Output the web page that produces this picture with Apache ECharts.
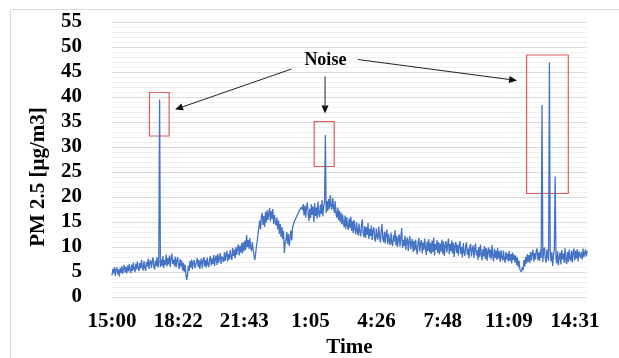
<!DOCTYPE html>
<html>
<head>
<meta charset="utf-8">
<script src="https://cdn.jsdelivr.net/npm/echarts@6/dist/echarts.min.js"></script>
<style>html,body{margin:0;padding:0;background:#fff}#c{width:619px;height:358px}</style>
</head>
<body>
<div id="c"></div>
<script>
// Time-axis tick labels (every 201.5 minutes from 15:00)
const timeLabels = ['15:00','18:22','21:43','1:05','4:26','7:48','11:09','14:31'];
const labelStepMin = 201.5;
const sampleStepMin = 2.5;          // one reading every 2.5 minutes
// PM 2.5 readings [µg/m3]
const pm25 = [
 4.3, 5.6, 4.7, 6.0, 4.2, 5.4, 5.9, 4.5, 5.5, 4.1,
 5.8, 4.8, 6.2, 4.6, 5.6, 6.4, 4.9, 6.0, 4.7, 6.3,
 5.1, 6.6, 5.4, 4.8, 6.5, 5.2, 6.9, 5.6, 5.0, 6.7,
 5.5, 7.1, 5.8, 5.2, 6.8, 5.7, 7.4, 6.0, 5.3, 7.2,
 5.9, 5.2, 7.0, 6.1, 7.7, 5.6, 6.9, 7.4, 5.8, 7.1,
 7.9, 6.0, 5.5, 7.3, 6.2, 8.0, 5.9, 6.9, 39.5, 6.0,
 7.5, 6.2, 8.2, 5.8, 7.4, 6.4, 8.5, 6.1, 7.8, 6.5,
 8.3, 6.0, 7.8, 8.7, 6.6, 7.5, 6.2, 8.1, 5.9, 7.3,
 8.0, 6.3, 5.6, 7.6, 6.1, 7.3, 5.3, 6.8, 5.0, 6.5,
 4.7, 3.4, 4.3, 6.3, 5.2, 7.2, 5.9, 7.5, 5.5, 6.9,
 7.4, 5.8, 5.4, 7.1, 7.8, 6.0, 7.4, 5.6, 7.0, 7.7,
 5.7, 7.2, 8.0, 6.1, 7.4, 5.9, 7.9, 6.5, 6.0, 7.6,
 8.2, 6.3, 7.7, 6.6, 8.4, 6.2, 7.8, 8.3, 6.4, 8.6,
 6.8, 7.9, 8.8, 6.6, 8.1, 8.5, 7.0, 9.0, 7.2, 8.4,
 9.2, 7.1, 8.6, 7.5, 9.4, 8.0, 7.4, 9.8, 8.2, 9.5,
 7.7, 10.0, 8.4, 9.7, 10.5, 8.3, 10.2, 8.9, 10.8, 8.7,
 11.0, 9.2, 11.3, 9.4, 12.4, 10.0, 11.4, 9.6, 11.8, 9.9,
 9.2, 11.0, 9.5, 8.4, 7.4, 8.6, 10.2, 11.2, 12.7, 14.0,
 15.3, 13.5, 16.0, 16.8, 14.4, 16.2, 14.0, 17.0, 14.9, 17.4,
 15.4, 16.7, 17.8, 15.1, 17.2, 15.6, 17.6, 14.6, 16.4, 15.0,
 14.3, 15.9, 13.5, 15.3, 12.6, 14.6, 12.0, 14.0, 11.6, 13.2,
 8.8, 10.8, 11.4, 13.0, 10.6, 12.6, 10.2, 11.8, 13.3, 11.3,
 13.8, 14.5, 14.3, 15.4, 15.0, 16.1, 15.7, 16.8, 16.6, 17.5,
 17.1, 18.0, 17.4, 18.6, 16.3, 18.3, 15.9, 18.0, 18.9, 16.6,
 15.2, 17.7, 15.8, 18.6, 16.4, 18.1, 15.0, 18.8, 16.2, 17.9,
 15.7, 19.1, 16.8, 16.0, 18.5, 16.6, 19.4, 16.1, 18.2, 18.7,
 32.4, 16.8, 19.2, 17.2, 19.6, 17.6, 20.4, 18.3, 17.5, 19.8,
 18.0, 16.8, 19.2, 16.6, 15.9, 17.9, 15.4, 17.3, 15.0, 16.9,
 14.5, 16.5, 14.8, 14.0, 16.3, 13.6, 16.0, 14.3, 13.4, 15.7,
 13.8, 16.1, 13.2, 15.2, 12.8, 15.4, 13.7, 12.5, 15.0, 13.1,
 12.3, 14.7, 13.0, 12.1, 14.4, 15.5, 12.7, 12.0, 14.2, 11.8,
 14.0, 12.4, 14.8, 11.6, 13.6, 12.2, 14.3, 11.4, 13.3, 13.9,
 11.7, 11.1, 13.7, 12.0, 11.5, 14.1, 12.2, 10.9, 13.2, 14.6,
 11.6, 11.0, 13.1, 10.7, 12.7, 13.5, 10.5, 12.6, 11.2, 10.4,
 12.9, 10.8, 10.2, 12.4, 11.1, 13.4, 10.3, 12.2, 10.0, 11.7,
 12.5, 10.1, 12.1, 13.8, 9.8, 11.4, 10.2, 12.3, 9.4, 11.3,
 11.9, 9.2, 11.1, 12.2, 9.5, 10.8, 11.6, 9.0, 11.2, 9.3,
 11.5, 9.6, 8.5, 11.0, 11.8, 9.1, 10.7, 11.4, 8.7, 10.9,
 9.4, 11.7, 9.7, 8.4, 11.1, 9.2, 11.6, 8.9, 10.8, 8.6,
 11.3, 9.0, 11.9, 8.3, 10.6, 9.4, 11.4, 8.8, 11.0, 8.5,
 10.7, 9.1, 11.5, 8.6, 11.1, 8.2, 10.3, 11.2, 8.9, 10.4,
 11.7, 8.5, 10.6, 9.2, 11.3, 8.7, 10.9, 8.0, 10.2, 11.0,
 8.8, 10.5, 8.3, 10.3, 11.2, 8.6, 10.0, 7.9, 10.8, 9.0,
 8.2, 10.2, 10.9, 8.4, 9.7, 7.7, 10.1, 10.6, 8.1, 9.5,
 10.3, 7.8, 9.8, 10.7, 8.3, 9.4, 7.4, 10.0, 8.0, 10.5,
 8.5, 7.3, 9.6, 8.1, 10.2, 7.6, 9.8, 7.2, 9.2, 9.9,
 7.9, 9.5, 7.5, 10.4, 8.2, 7.1, 9.7, 7.8, 9.3, 7.4,
 9.8, 7.7, 9.1, 7.0, 9.4, 8.0, 7.3, 9.3, 7.6, 6.9,
 9.0, 7.5, 8.7, 7.1, 9.2, 7.2, 8.6, 6.7, 8.9, 7.4,
 8.5, 6.9, 8.3, 6.4, 7.9, 6.0, 7.3, 5.5, 5.2, 5.0,
 6.0, 5.4, 7.4, 6.1, 8.0, 6.7, 8.6, 7.0, 8.4, 6.8,
 9.0, 7.3, 8.7, 9.4, 7.1, 8.8, 7.5, 9.2, 9.7, 7.4,
 8.9, 7.2, 9.5, 7.8, 38.4, 7.0, 9.1, 9.9, 7.6, 6.9,
 9.6, 8.0, 7.3, 46.9, 9.3, 7.1, 9.0, 6.2, 8.3, 9.5,
 24.1, 7.6, 6.7, 9.2, 6.3, 8.0, 8.9, 6.5, 9.4, 7.5,
 8.7, 6.8, 9.8, 7.4, 6.6, 9.0, 7.0, 9.5, 7.8, 7.2,
 9.3, 6.9, 8.9, 9.7, 7.3, 9.2, 7.7, 9.6, 7.1, 9.1,
 9.4, 7.8, 9.0, 7.5, 9.7, 8.0, 7.6, 9.5, 8.1, 9.2
];
// Noise boxes in data units: [minStart, minEnd, valLow, valHigh]
const noiseBoxes = [
  [114, 174, 32.2, 40.9],
  [616, 677, 26.1, 35.1],
  [1263, 1390, 20.7, 48.4]
];
// "Noise" label position and arrows, in data units: [minute, value]
const noiseLabelAt = [650, 47.4];
const noiseArrows = [
  [[547, 45.6], [192, 37.5]],
  [[649, 44.1], [649, 36.7]],
  [[749, 47.5], [1234, 43.3]]
];

const font = "'Liberation Serif','Times New Roman',serif";
const chart = echarts.init(document.getElementById('c'), null, {renderer: 'canvas'});
chart.setOption({
  animation: false,
  backgroundColor: '#fff',
  grid: {left: 112, right: 32, top: 22, bottom: 61, containLabel: false, outerBoundsMode: 'none'},
  xAxis: {
    type: 'value', min: 0, max: 1447, interval: labelStepMin,
    name: 'Time', nameLocation: 'middle', nameGap: 40,
    nameTextStyle: {fontFamily: font, fontWeight: 'bold', fontSize: 21, color: '#000'},
    axisLine: {show: false}, axisTick: {show: false}, splitLine: {show: false},
    axisLabel: {
      fontFamily: font, fontWeight: 'bold', fontSize: 21, color: '#000', margin: 14,
      showMaxLabel: false,
      formatter: v => { const k = v / labelStepMin; const r = Math.round(k); return Math.abs(k - r) < 1e-6 ? (timeLabels[r] || '') : ''; }
    }
  },
  yAxis: {
    type: 'value', min: 0, max: 55, interval: 5,
    axisLine: {show: false}, axisTick: {show: false},
    axisLabel: {fontFamily: font, fontWeight: 'bold', fontSize: 21, color: '#000', margin: 30},
    splitLine: {show: true, lineStyle: {color: '#d9d9d9', width: 1}},
    minorTick: {show: false, splitNumber: 5},
    minorSplitLine: {show: true, lineStyle: {color: '#efefef', width: 1}}
  },
  series: [{
    type: 'line', showSymbol: false, symbol: 'none',
    data: pm25.map((v, i) => [i * sampleStepMin, v]),
    lineStyle: {color: '#4472c4', width: 1.3},
    itemStyle: {color: '#4472c4'},
    markArea: {
      silent: true,
      itemStyle: {color: 'rgba(0,0,0,0)', borderColor: '#e05a5a', borderWidth: 1.2},
      data: noiseBoxes.map(b => [{coord: [b[0], b[3]]}, {coord: [b[1], b[2]]}])
    }
  }]
});

// Annotation: frame, y-axis title, "Noise" label and arrows (positioned via the chart's scales)
const px = p => chart.convertToPixel({gridIndex: 0}, p);
const g = [
  {type: 'rect', silent: true, shape: {x: 10.5, y: 9.5, width: 700, height: 400},
   style: {fill: 'none', stroke: '#d9d9d9', lineWidth: 1}, z: -1},
  {type: 'text', x: 39, y: 177, rotation: Math.PI / 2,
   style: {text: 'PM 2.5 [μg/m3]', font: "bold 21px " + font, fill: '#000', textAlign: 'center', textVerticalAlign: 'middle'}}
];
const lp = px(noiseLabelAt);
g.push({type: 'text', x: lp[0], y: lp[1],
  style: {text: 'Noise', font: "bold 18px " + font, fill: '#000', textAlign: 'center', textVerticalAlign: 'middle'}});
noiseArrows.forEach(a => {
  const s = px(a[0]), e = px(a[1]);
  const dx = e[0] - s[0], dy = e[1] - s[1], L = Math.hypot(dx, dy);
  const ux = dx / L, uy = dy / L, hl = 8, hw = 3.5;
  const bx = e[0] - ux * hl, by = e[1] - uy * hl;
  g.push({type: 'line', silent: true, shape: {x1: s[0], y1: s[1], x2: bx, y2: by},
    style: {stroke: '#222', lineWidth: 1}});
  g.push({type: 'polygon', silent: true,
    shape: {points: [[e[0], e[1]], [bx - uy * hw, by + ux * hw], [bx + uy * hw, by - ux * hw]]},
    style: {fill: '#111'}});
});
chart.setOption({graphic: g});
</script>
</body>
</html>
